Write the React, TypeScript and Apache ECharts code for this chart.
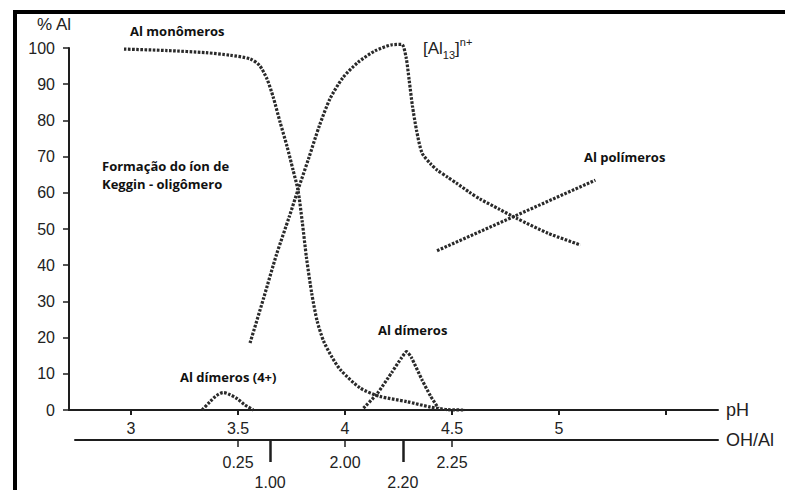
import React, { useEffect, useRef } from "react";
import * as echarts from "echarts";

// ---- Data ----
const MONOMEROS_PH = [2.967, 3.168, 3.35, 3.463, 3.556, 3.6, 3.635, 3.664, 3.696, 3.729, 3.757, 3.78, 3.80, 3.82, 3.845, 3.87, 3.90, 3.94, 3.98, 4.07, 4.16, 4.29, 4.40, 4.48, 4.56];
const MONOMEROS_VAL = [99.7, 99.3, 98.7, 98.0, 97.0, 95.2, 91.5, 86.5, 79.6, 72.8, 66.3, 60.8, 52.0, 42.0, 32.0, 24.5, 19.0, 14.5, 11.0, 6.1, 3.8, 2.3, 0.8, 0.1, 0];

const AL13_PH = [3.556, 3.62, 3.68, 3.74, 3.78, 3.83, 3.88, 3.93, 3.99, 4.06, 4.14, 4.22, 4.265, 4.285, 4.30, 4.315, 4.335, 4.36, 4.40, 4.43, 4.48, 4.52, 4.58, 4.63, 4.72, 4.80, 4.95, 5.10];
const AL13_VAL = [18.5, 31.0, 43.0, 53.5, 60.8, 69.5, 78.5, 86.0, 91.8, 96.0, 99.2, 100.9, 101.0, 97.5, 91.0, 84.0, 77.0, 71.0, 68.0, 66.3, 64.3, 62.7, 60.2, 58.3, 55.5, 53.0, 48.8, 45.6];

const POLIMEROS_PH = [4.43, 5.17];
const POLIMEROS_VAL = [44.0, 63.5];

const DIMEROS_PH = [4.086, 4.15, 4.22, 4.265, 4.288, 4.31, 4.36, 4.40, 4.436];
const DIMEROS_VAL = [0.5, 4.5, 10.5, 14.5, 16.1, 14.5, 8.3, 3.8, 0.5];

const DIMEROS4_PH = [3.332, 3.369, 3.40, 3.431, 3.46, 3.494, 3.53, 3.571];
const DIMEROS4_VAL = [0, 2.3, 4.0, 4.8, 4.3, 3.2, 1.5, 0];

const PH_TICKS = [3, 3.5, 4, 4.5, 5, 5.5];
const PH_LABELS = [3, 3.5, 4, 4.5, 5];

const OHAL_SHORT_PH = [3.5, 4.0, 4.5];
const OHAL_SHORT_LABELS = ["0.25", "2.00", "2.25"];
const OHAL_LONG_PH = [3.65, 4.27];
const OHAL_LONG_LABELS = ["1.00", "2.20"];

const Y_MIN = 0;
const Y_MAX = 100;
const Y_STEP = 10;

const pairs = (xs: number[], ys: number[]) => xs.map((x, i) => [x, ys[i]]);
const lookup = (xs: number[], labels: string[]) => (v: number) => {
  const i = xs.findIndex((p) => Math.abs(p - v) < 1e-6);
  return i >= 0 ? labels[i] : "";
};

const AXIS_COLOR = "#1e1e1e";
const TEXT_COLOR = "#222";
const LINE_COLOR = "#2a2a2a";
const AXIS_FONT = "Liberation Sans";
const NOTE_FONT = "Open Sans";

const dotted = {
  color: LINE_COLOR,
  width: 3.2,
  type: [2.6, 1.5] as any,
  cap: "butt" as const,
};

export default function App() {
  const ref = useRef<HTMLDivElement>(null);
  useEffect(() => {
    if (!ref.current) return;
    const chart = echarts.init(ref.current, undefined, { renderer: "svg" });
    const lineSeries = (name: string, xs: number[], ys: number[], smooth: number) => ({
      type: "line",
      name,
      xAxisIndex: 0,
      yAxisIndex: 0,
      data: pairs(xs, ys),
      smooth,
      showSymbol: false,
      symbol: "none",
      clip: false,
      lineStyle: dotted,
      z: 3,
    });
    const noteStyle = {
      fontFamily: NOTE_FONT,
      fontWeight: "bold",
      fontSize: 13,
      fill: "#111",
    };
    chart.setOption({
      animation: false,
      backgroundColor: "#fff",
      grid: [
        { left: 69, right: 67, top: 48, bottom: 80 },
        { left: 75, right: 67, top: 48, bottom: 80 },
      ],
      xAxis: [
        {
          type: "value",
          gridIndex: 0,
          min: 2.71,
          max: 5.743,
          splitLine: { show: false },
          axisLine: { onZero: false, lineStyle: { color: AXIS_COLOR, width: 2 } },
          axisTick: { show: true, customValues: PH_TICKS, length: 5, lineStyle: { color: AXIS_COLOR, width: 2 } },
          axisLabel: {
            customValues: PH_LABELS,
            formatter: (v: number) => String(v),
            margin: 10,
            fontFamily: AXIS_FONT,
            fontSize: 16,
            color: TEXT_COLOR,
          },
          name: "pH",
          nameLocation: "end",
          nameGap: 8,
          nameTextStyle: { fontFamily: AXIS_FONT, fontSize: 18, color: TEXT_COLOR },
        },
        {
          type: "value",
          gridIndex: 1,
          position: "bottom",
          offset: 38,
          min: 2.738,
          max: 5.743,
          splitLine: { show: false },
          axisLine: { onZero: false, lineStyle: { color: AXIS_COLOR, width: 2 } },
          axisTick: { show: true, customValues: OHAL_SHORT_PH, length: 7, lineStyle: { color: AXIS_COLOR, width: 1.5 } },
          axisLabel: {
            customValues: OHAL_SHORT_PH,
            formatter: lookup(OHAL_SHORT_PH, OHAL_SHORT_LABELS),
            margin: 14,
            fontFamily: AXIS_FONT,
            fontSize: 16,
            color: TEXT_COLOR,
          },
          name: "OH/Al",
          nameLocation: "end",
          nameGap: 8,
          nameTextStyle: { fontFamily: AXIS_FONT, fontSize: 18, color: TEXT_COLOR },
        },
        {
          type: "value",
          gridIndex: 1,
          position: "bottom",
          offset: 38,
          min: 2.738,
          max: 5.743,
          splitLine: { show: false },
          axisLine: { show: false, onZero: false },
          axisTick: { show: true, customValues: OHAL_LONG_PH, length: 22, lineStyle: { color: AXIS_COLOR, width: 2.5 } },
          axisLabel: {
            customValues: OHAL_LONG_PH,
            formatter: lookup(OHAL_LONG_PH, OHAL_LONG_LABELS),
            margin: 34,
            fontFamily: AXIS_FONT,
            fontSize: 16,
            color: TEXT_COLOR,
          },
        },
      ],
      yAxis: [
        {
          type: "value",
          gridIndex: 0,
          min: Y_MIN,
          max: Y_MAX,
          interval: Y_STEP,
          splitLine: { show: false },
          axisLine: { show: true, onZero: false, lineStyle: { color: AXIS_COLOR, width: 2 } },
          axisTick: { show: true, length: 6, lineStyle: { color: AXIS_COLOR, width: 1.5 } },
          axisLabel: { margin: 14, fontFamily: AXIS_FONT, fontSize: 16, color: TEXT_COLOR },
        },
        {
          type: "value",
          gridIndex: 1,
          show: false,
          min: Y_MIN,
          max: Y_MAX,
        },
      ],
      series: [
        lineSeries("Al monômeros", MONOMEROS_PH, MONOMEROS_VAL, 0.25),
        lineSeries("[Al13]n+", AL13_PH, AL13_VAL, 0.25),
        lineSeries("Al polímeros", POLIMEROS_PH, POLIMEROS_VAL, 0),
        lineSeries("Al dímeros", DIMEROS_PH, DIMEROS_VAL, 0.2),
        lineSeries("Al dímeros (4+)", DIMEROS4_PH, DIMEROS4_VAL, 0.3),
      ],
      graphic: [
        { type: "rect", shape: { x: 13, y: 10, width: 772, height: 4 }, style: { fill: "#000" }, z: 10 },
        { type: "rect", shape: { x: 13, y: 10, width: 4, height: 480 }, style: { fill: "#000" }, z: 10 },
        {
          type: "text",
          x: 37,
          y: 24,
          style: { text: "% Al", fontFamily: AXIS_FONT, fontSize: 17, fill: TEXT_COLOR, verticalAlign: "middle" },
        },
        { type: "text", x: 130, y: 31, style: { ...noteStyle, text: "Al monômeros", verticalAlign: "middle" } },
        {
          type: "text",
          x: 102,
          y: 175,
          style: { ...noteStyle, text: "Formação do íon de\nKeggin - oligômero", lineHeight: 18, verticalAlign: "middle" },
        },
        { type: "text", x: 584, y: 157, style: { ...noteStyle, text: "Al polímeros", verticalAlign: "middle" } },
        { type: "text", x: 378, y: 330, style: { ...noteStyle, text: "Al dímeros", verticalAlign: "middle" } },
        { type: "text", x: 180, y: 377, style: { ...noteStyle, text: "Al dímeros (4+)", verticalAlign: "middle" } },
        {
          type: "text",
          x: 423,
          y: 48,
          style: {
            text: "[Al{sub|13}]{sup|n+}",
            fontFamily: AXIS_FONT,
            fontSize: 17,
            fill: TEXT_COLOR,
            verticalAlign: "middle",
            lineHeight: 24,
            rich: {
              sub: { fontFamily: AXIS_FONT, fontSize: 11, fill: TEXT_COLOR, verticalAlign: "bottom", lineHeight: 24 },
              sup: { fontFamily: AXIS_FONT, fontSize: 11, fill: TEXT_COLOR, verticalAlign: "top", lineHeight: 24 },
            },
          },
        },
      ],
    });
    return () => chart.dispose();
  }, []);
  return (
    <div
      ref={ref}
      style={{ position: "absolute", left: 0, top: 0, width: 785, height: 490 }}
    />
  );
}
